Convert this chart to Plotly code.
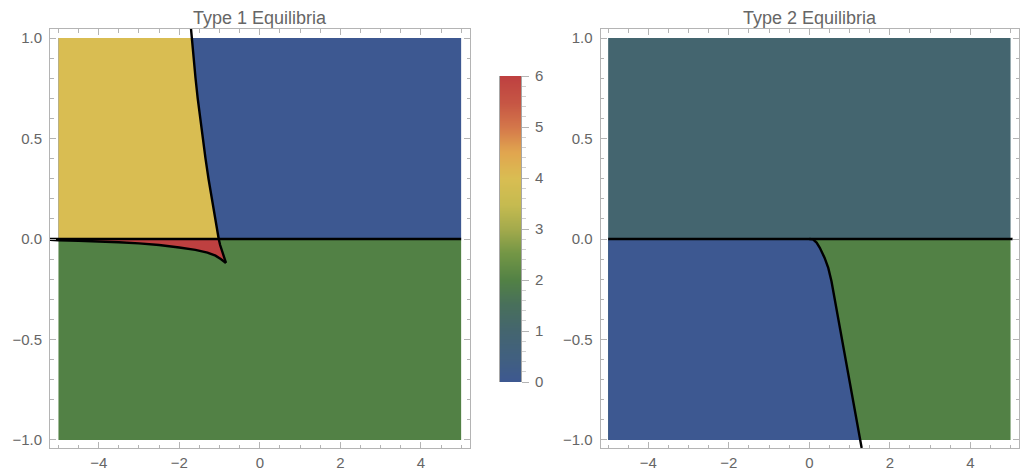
import numpy as np
import plotly.graph_objects as go
from plotly.colors import sample_colorscale

# ---------------- data ----------------
# Type 1: boundary between the yellow and blue regions, continuing below y=0 to the cusp
upper_curve_x = [-1.708, -1.69, -1.646, -1.596, -1.542, -1.482, -1.418, -1.348, -1.274,
                 -1.194, -1.110, -1.02, -0.985, -0.945, -0.90, -0.865, -0.84]
upper_curve_y = [1.045, 1.0, 0.9, 0.8, 0.7, 0.6, 0.5, 0.4, 0.3,
                 0.2, 0.1, 0.0, -0.03, -0.055, -0.08, -0.10, -0.119]
# Type 1: lower boundary of the red sliver
lower_curve_x = [-5.21, -5.0, -4.5, -4.0, -3.5, -3.0, -2.5, -2.0, -1.6, -1.3, -1.1, -0.97, -0.9, -0.84]
lower_curve_y = [-0.004, -0.007, -0.009, -0.012, -0.016, -0.022, -0.03, -0.042, -0.054, -0.068, -0.083, -0.1, -0.11, -0.119]
# Type 2: boundary between blue and green regions
type2_curve_x = [0.0, 0.09, 0.18, 0.26, 0.38, 0.47, 0.55, 0.63, 0.76, 0.88, 1.0, 1.13, 1.25, 1.27, 1.30]
type2_curve_y = [0.0, -0.002, -0.018, -0.044, -0.094, -0.144, -0.21, -0.30, -0.433, -0.566, -0.698, -0.847, -0.98, -1.0, -1.04]

# region values (coloured through the colour scale)
type1_values = {"upper_right": 0, "upper_left": 4, "lower": 2, "sliver": 6}
type2_values = {"upper": 1, "lower_left": 0, "lower_right": 2}

x_extent = [-5, 5]
y_extent = [-1, 1]
cbar_min, cbar_max = 0, 6

titles = ["Type 1 Equilibria", "Type 2 Equilibria"]

# colour scale (DarkRainbow-like)
scale_vals = [0, 0.5, 1, 1.5, 2, 2.5, 3, 3.5, 4, 4.5, 5, 5.5, 6]
scale_cols = ['#3D5891', '#41607F', '#44656F', '#486F5C', '#528145', '#719545', '#A3AA4C',
              '#C6BB50', '#D9BD52', '#E1A64F', '#D4774A', '#C65544', '#BE4040']
colorscale = [[v / 6, c] for v, c in zip(scale_vals, scale_cols)]


def col(v):
    return sample_colorscale(colorscale, [(v - cbar_min) / (cbar_max - cbar_min)])[0]


def poly(xs, ys, v, xa, ya):
    return go.Scatter(x=xs, y=ys, fill="toself", fillcolor=col(v), mode="lines",
                      line=dict(width=0, color=col(v)), xaxis=xa, yaxis=ya,
                      hoverinfo="skip", showlegend=False)


def line(xs, ys, xa, ya):
    return go.Scatter(x=xs, y=ys, mode="lines", line=dict(color="black", width=2.4),
                      xaxis=xa, yaxis=ya, hoverinfo="skip", showlegend=False)


x0, x1 = x_extent
y0, y1 = y_extent
fig = go.Figure()

# ---------- Type 1 ----------
fig.add_trace(poly([x0, x1, x1, x0], [0, 0, y1, y1], type1_values["upper_right"], "x", "y"))
ux = [x0, x0] + [x for x, y in zip(upper_curve_x, upper_curve_y) if 0 <= y <= 1]
uy = [0, y1] + [y for y in upper_curve_y if 0 <= y <= 1]
fig.add_trace(poly(ux, uy, type1_values["upper_left"], "x", "y"))
fig.add_trace(poly([x0, x1, x1, x0], [y0, y0, 0, 0], type1_values["lower"], "x", "y"))
sx = [x0] + [x for x, y in zip(upper_curve_x, upper_curve_y) if y <= 0] + \
     [x for x in lower_curve_x[::-1] if x >= x0]
sy = [0] + [y for y in upper_curve_y if y <= 0] + \
     [y for x, y in zip(lower_curve_x[::-1], lower_curve_y[::-1]) if x >= x0]
fig.add_trace(poly(sx, sy, type1_values["sliver"], "x", "y"))
fig.add_trace(line([-5.21, x1], [0, 0], "x", "y"))
fig.add_trace(line(upper_curve_x, upper_curve_y, "x", "y"))
fig.add_trace(line(lower_curve_x, lower_curve_y, "x", "y"))

# ---------- Type 2 ----------
fig.add_trace(poly([x0, x1, x1, x0], [0, 0, y1, y1], type2_values["upper"], "x2", "y2"))
fig.add_trace(poly([x0, x1, x1, x0], [y0, y0, 0, 0], type2_values["lower_right"], "x2", "y2"))
bx = [x0] + [x for x, y in zip(type2_curve_x, type2_curve_y) if y >= y0] + [x0]
by = [0] + [y for y in type2_curve_y if y >= y0] + [y0]
fig.add_trace(poly(bx, by, type2_values["lower_left"], "x2", "y2"))
fig.add_trace(line([x0, 5.05], [0, 0], "x2", "y2"))
fig.add_trace(line(type2_curve_x, type2_curve_y, "x2", "y2"))

# ---------- colour bar as a heatmap ----------
cb_y = np.linspace(cbar_min, cbar_max, 301)
fig.add_trace(go.Heatmap(x=[0], y=cb_y, z=[[v] for v in cb_y], colorscale=colorscale,
                         zmin=cbar_min, zmax=cbar_max, zsmooth="best", showscale=False,
                         xaxis="x3", yaxis="y3", hoverinfo="skip"))

FONT = "Liberation Sans, Arial, sans-serif"
frame = "#b4b4b4"
tickfont = dict(family=FONT, size=15, color="#666666")


def xax(domain, rng):
    return dict(domain=domain, range=rng, showgrid=False, zeroline=False, showline=True,
                linecolor=frame, linewidth=1, mirror="ticks", ticks="inside", ticklen=6,
                tickcolor=frame, tickwidth=1, tick0=0, dtick=2, tickfont=tickfont,
                minor=dict(ticks="inside", ticklen=3.5, dtick=0.5, tick0=0, tickcolor=frame),
                fixedrange=True, ticklabelstandoff=1, automargin=False)


def yax(domain, rng, anchor):
    return dict(domain=domain, range=rng, anchor=anchor, showgrid=False, zeroline=False,
                showline=True, linecolor=frame, linewidth=1, mirror="ticks", ticks="inside",
                ticklen=6, tickcolor=frame, tickwidth=1, tick0=0, dtick=0.5, tickformat=".1f",
                tickfont=tickfont,
                minor=dict(ticks="inside", ticklen=3.5, dtick=0.1, tick0=0, tickcolor=frame),
                fixedrange=True, ticklabelstandoff=4, automargin=False)


ydom = [24 / 472, 443 / 472]
fig.update_layout(
    width=1024, height=472, margin=dict(l=0, r=0, t=0, b=0, autoexpand=False),
    paper_bgcolor="white", plot_bgcolor="white", showlegend=False,
    xaxis=dict(xax([50 / 1024, 470 / 1024], [-5.21, 5.22]), anchor="y"),
    yaxis=yax(ydom, [-1.04, 1.045], "x"),
    xaxis2=dict(xax([600.5 / 1024, 1019 / 1024], [-5.19, 5.21]), anchor="y2"),
    yaxis2=yax(ydom, [-1.04, 1.045], "x2"),
    xaxis3=dict(domain=[500 / 1024, 521 / 1024], anchor="y3", visible=False,
                range=[-0.5, 0.5], fixedrange=True, automargin=False),
    yaxis3=dict(domain=[(472 - 382) / 472, (472 - 76) / 472], anchor="x3", side="right",
                range=[cbar_min, cbar_max], showgrid=False, zeroline=False, showline=True,
                linecolor="rgba(0,0,0,0.35)", linewidth=1, mirror=True, ticks="outside",
                ticklen=7, tickcolor=frame, dtick=1, tick0=0, tickfont=tickfont,
                minor=dict(ticks="outside", ticklen=4, dtick=0.2, tick0=0, tickcolor="#d0d0d0"),
                fixedrange=True, ticklabelstandoff=3, automargin=False),
    annotations=[
        dict(text=titles[0], x=260 / 1024, y=1 - 18 / 472, xref="paper", yref="paper",
             showarrow=False, xanchor="center", yanchor="middle",
             font=dict(family=FONT, size=18, color="#666666")),
        dict(text=titles[1], x=810 / 1024, y=1 - 18 / 472, xref="paper", yref="paper",
             showarrow=False, xanchor="center", yanchor="middle",
             font=dict(family=FONT, size=18, color="#666666")),
    ],
)

fig.write_html("out.html")
